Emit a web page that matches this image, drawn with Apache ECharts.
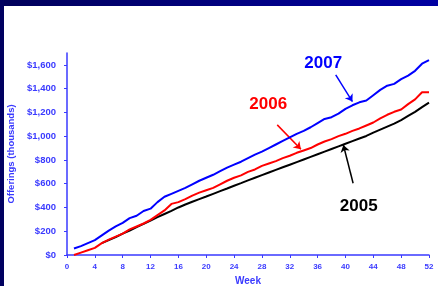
<!DOCTYPE html>
<html>
<head>
<meta charset="utf-8">
<script src="https://cdn.jsdelivr.net/npm/echarts@6/dist/echarts.min.js"></script>
<style>
  html, body { margin: 0; padding: 0; background: #ffffff; }
  #wrap { position: relative; width: 438px; height: 286px; overflow: hidden; background: #ffffff; }
  #topbar { position: absolute; left: 0; top: 0; width: 438px; height: 6px; background: linear-gradient(to right, #00005a, #0000a2); }
  #leftbar { position: absolute; left: 0; top: 0; width: 4px; height: 286px; background: #000060; }
  #chart { position: absolute; left: 0; top: 0; width: 438px; height: 286px; }
</style>
</head>
<body>
<div id="wrap">
  <div id="topbar"></div>
  <div id="leftbar"></div>
  <div id="chart"></div>
</div>
<script>
// Week numbers
const weeksAll = [1,2,3,4,5,6,7,8,9,10,11,12,13,14,15,16,17,18,19,20,21,22,23,24,25,26,27,28,29,30,31,32,33,34,35,36,37,38,39,40,41,42,43,44,45,46,47,48,49,50,51,52];
const weeks2005 = [5,6,7,8,9,10,11,12,13,14,15,16,17,18,19,20,21,22,23,24,25,26,27,28,29,30,31,32,33,34,35,36,37,38,39,40,41,42,43,44,45,46,47,48,49,50,51,52];

// Cumulative offerings (thousands of $)
const offer2005 = [100,125,150,180,205,235,262,290,318,345,372,400,425,448,470,492,515,538,560,583,605,628,650,672,694,716,738,760,782,804,826,848,870,892,914,936,958,980,1002,1030,1055,1080,1105,1135,1170,1205,1245,1283];
const offer2006 = [0,20,40,60,100,130,155,180,215,240,265,295,335,375,430,445,470,500,525,545,565,595,625,650,670,700,720,750,770,790,815,835,860,880,900,930,955,975,1000,1020,1045,1065,1090,1115,1150,1180,1205,1225,1270,1310,1370,1370];
const offer2007 = [55,75,100,125,165,205,240,270,310,330,370,390,445,490,515,540,565,595,625,650,675,705,735,760,785,815,845,870,900,930,960,990,1020,1045,1075,1110,1145,1160,1190,1230,1260,1285,1300,1345,1390,1425,1440,1480,1510,1550,1610,1640];

// Axis ticks
const yTicks = [0,200,400,600,800,1000,1200,1400,1600];
const xTicks = [0,4,8,12,16,20,24,28,32,36,40,44,48,52];

const pair = (xs, ys) => xs.map((x, i) => [x, ys[i]]);

const axisBlue = '#3a3aff';
const font = '"Liberation Sans", Arial, sans-serif';

function annot(text, color, at, from, to) {
  return {
    markPoint: {
      silent: true,
      symbol: 'rect', symbolSize: 1,
      itemStyle: { color: 'rgba(0,0,0,0)' },
      label: { show: true, position: 'inside', formatter: text, color: color, fontFamily: font, fontWeight: 'bold', fontSize: 17 },
      data: [{ coord: at }]
    },
    markLine: {
      silent: true,
      symbol: ['none', 'arrow'], symbolSize: 7,
      label: { show: false },
      lineStyle: { color: color, width: 1.5, type: 'solid' },
      data: [[{ coord: from }, { coord: to }]]
    }
  };
}

const chart = echarts.init(document.getElementById('chart'), null, { renderer: 'canvas' });
chart.setOption({
  animation: false,
  backgroundColor: 'transparent',
  grid: { left: 67, right: 9, top: 53, bottom: 31, containLabel: false, outerBoundsMode: 'none' },
  xAxis: {
    type: 'value', min: 0, max: 52, interval: 4,
    name: 'Week', nameLocation: 'middle', nameGap: 17,
    nameTextStyle: { color: axisBlue, fontFamily: font, fontWeight: 'bold', fontSize: 10 },
    axisLine: { show: true, onZero: false, lineStyle: { color: axisBlue, width: 1.5 } },
    axisTick: { show: true, length: 3, lineStyle: { color: axisBlue, width: 1 } },
    axisLabel: { color: axisBlue, fontFamily: font, fontWeight: 'bold', fontSize: 8, margin: 8 },
    splitLine: { show: false }
  },
  yAxis: {
    type: 'value', min: 0, max: 1700, interval: 200,
    name: 'Offerings (thousands)', nameLocation: 'middle', nameGap: 49,
    nameTextStyle: { color: axisBlue, fontFamily: font, fontWeight: 'bold', fontSize: 9.5 },
    axisLine: { show: true, lineStyle: { color: axisBlue, width: 1.5 } },
    axisTick: { show: true, length: 3, customValues: yTicks, lineStyle: { color: axisBlue, width: 1 } },
    axisLabel: { customValues: yTicks, color: axisBlue, fontFamily: font, fontWeight: 'bold', fontSize: 9.5, margin: 11,
      formatter: v => '$' + Number(v).toLocaleString('en-US') },
    splitLine: { show: false }
  },
  series: [
    Object.assign({
      name: '2005', type: 'line', data: pair(weeks2005, offer2005), showSymbol: false, symbol: 'none',
      lineStyle: { color: '#000000', width: 2 }, itemStyle: { color: '#000000' }, z: 3
    }, annot('2005', '#000000', [41.9, 413], [41.1, 604], [39.7, 926])),
    Object.assign({
      name: '2006', type: 'line', data: pair(weeksAll, offer2006), showSymbol: false, symbol: 'none',
      lineStyle: { color: '#ff0000', width: 2 }, itemStyle: { color: '#ff0000' }, z: 4
    }, annot('2006', '#ff0000', [28.9, 1272], [30.2, 1095], [33.6, 890])),
    Object.assign({
      name: '2007', type: 'line', data: pair(weeksAll, offer2007), showSymbol: false, symbol: 'none',
      lineStyle: { color: '#0000ff', width: 2 }, itemStyle: { color: '#0000ff' }, z: 5
    }, annot('2007', '#0000ff', [36.8, 1617], [38.6, 1516], [41.0, 1291]))
  ]
});
</script>
</body>
</html>
